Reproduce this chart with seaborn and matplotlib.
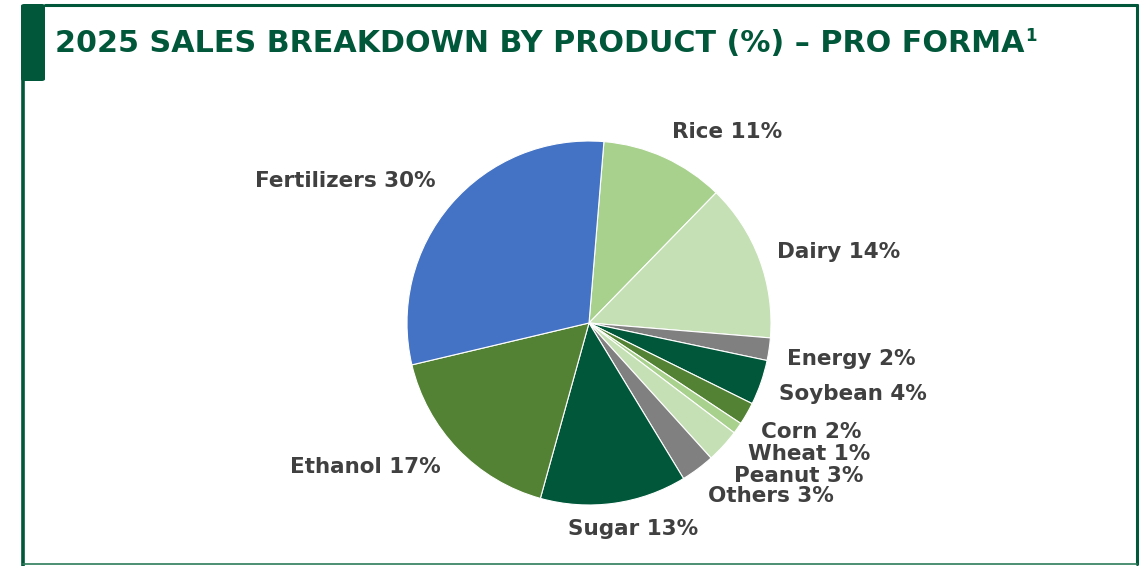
import matplotlib
matplotlib.use("Agg")
import matplotlib.pyplot as plt
import seaborn as sns
from matplotlib.patches import FancyBboxPatch
from matplotlib.lines import Line2D

# data
products = ["Rice", "Dairy", "Energy", "Soybean", "Corn", "Wheat",
            "Peanut", "Others", "Sugar", "Ethanol", "Fertilizers"]
shares = [11, 14, 2, 4, 2, 1, 3, 3, 13, 17, 30]
colors = ["#A9D18E", "#C5E0B4", "#808080", "#00573A", "#548235", "#A9D18E",
          "#C5E0B4", "#808080", "#00573A", "#548235", "#4472C4"]

# label positions in pie-radius units (hand placed like the original slide)
label_pos = [(0.76, 1.05), (1.37, 0.39), (1.44, -0.20), (1.45, -0.39),
             (1.22, -0.60), (1.21, -0.72), (1.15, -0.84), (1.00, -0.95),
             (0.24, -1.13), (-1.23, -0.79), (-1.34, 0.78)]

sns.set_theme(style="white")
plt.rcParams['font.family'] = ['DejaVu Sans']

W, H = 1141, 566
fig = plt.figure(figsize=(W / 100, H / 100), dpi=100)

GREEN = "#00573A"
TXT = "#404040"

# frame around the slide
fig.add_artist(Line2D([45 / W, 1137 / W], [1 - 5 / H, 1 - 5 / H], color=GREEN, lw=2.2))
fig.add_artist(Line2D([1137 / W, 1137 / W], [1 - 5 / H, 1 - 564 / H], color=GREEN, lw=2.2))
fig.add_artist(Line2D([23 / W, 23 / W], [1 - 80 / H, 0], color=GREEN, lw=2.6))
fig.add_artist(Line2D([23 / W, 1137 / W], [1 - 564 / H, 1 - 564 / H], color="#2E7D5B", lw=1.2))
fig.add_artist(FancyBboxPatch((21 / W, 1 - 81 / H), 24 / W, 77 / H,
                              boxstyle="round,pad=0,rounding_size=0.003",
                              color=GREEN, lw=0))

title = fig.text(55 / W, 1 - 43 / H, "2025 SALES BREAKDOWN BY PRODUCT (%) – PRO FORMA",
                 fontsize=21.7, fontweight="bold", color=GREEN, va="center", ha="left")
fig.canvas.draw()
bb = title.get_window_extent()
fig.text(bb.x1 / W + 1 / W, 1 - 36 / H, "1", fontsize=12, fontweight="bold",
         color=GREEN, va="center", ha="left")

# pie axes: one data unit = pie radius (182 px), centre at (589, 323) px
cx, cy, r = 589, 323, 182
ax = fig.add_axes([0, 0, 1, 1])
ax.pie(shares, colors=colors, startangle=85.3, counterclock=False,
       radius=1, center=(0, 0),
       wedgeprops=dict(edgecolor="white", linewidth=0.8))
ax.set_xlim(-cx / r, (W - cx) / r)
ax.set_ylim(-(H - cy) / r, cy / r)
ax.set_aspect("auto")
ax.axis("off")

for name, val, (x, y) in zip(products, shares, label_pos):
    ax.text(x, y, f"{name} {val}%", fontsize=15.5, fontweight="bold",
            color=TXT, ha="center", va="center")

fig.savefig("out.png", dpi=100)
